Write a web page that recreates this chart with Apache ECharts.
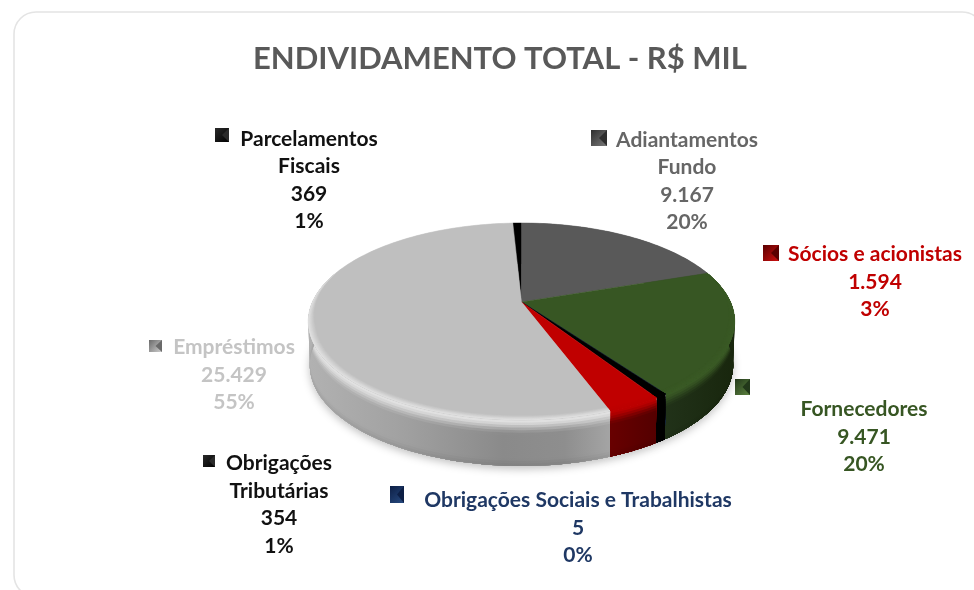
<!DOCTYPE html>
<html><head><meta charset="utf-8">
<style>html,body{margin:0;padding:0;background:#fff}#c{width:974px;height:590px;filter:blur(0.55px)}</style>
<script src="https://cdn.jsdelivr.net/npm/echarts@6/dist/echarts.min.js"></script>
</head><body><div id="c"></div>
<script>
// ---- data ----
const categories = ['Parcelamentos\nFiscais','Adiantamentos\nFundo','Fornecedores','Obrigações Sociais e Trabalhistas','Obrigações\nTributárias','Sócios e acionistas','Empréstimos'];
const values = [369, 9167, 9471, 5, 354, 1594, 25429];
const chartTitle = 'ENDIVIDAMENTO TOTAL - R$ MIL';

// ---- style and layout ----
const topColors  = ['#000000','#595959','#375623','#1f3864','#000000','#c00000','#bfbfbf'];
const highlights = ['#000000','#595959','#3a5a25','#1f3864','#000000','#bc0000','#e2e2e2'];
const wallStops  = [
  [[0,'#000000'],[1,'#000000']],
  [[0,'#333333'],[1,'#333333']],
  [[0,'#22331a'],[1,'#18260d']],
  [[0,'#0b1a40'],[1,'#0b1a40']],
  [[0,'#000000'],[1,'#000000']],
  [[0,'#6a0000'],[1,'#520000']],
  [[0,'#b2b2b2'],[0.3,'#a2a2a2'],[0.65,'#8a8a8a'],[0.85,'#8e8e8e'],[1,'#a4a4a4']]
];
const wallRange = [[510,525],[525,710],[660,735],[655,660],[655,660],[606,660],[306,610]];
const labelColors = ['#111111','#666666','#375623','#1f3864','#111111','#c00000','#c4c4c4'];
const labelPos = [[309,125.5],[687,126.5],[864,396],[578,487],[279,450],[875,241],[234,334]];
const keyBoxes = [[215,128,14,14],[591,130,16,16],[735,379,15,16],[390,486,14,17],[203,455,12,12],[763,245,16,16],[149,340,13,12]];
const keyLight = ['#000000','#7a7a7a','#5d8340','#274a80','#000000','#cf1010','#cfcfcf'];
const keyDark  = ['#2a2a2a','#2e2e2e','#22381a','#0d1f45','#2a2a2a','#5a0000','#6a6a6a'];
const FONT = '"Lato","Noto Sans",sans-serif';

// projection of the tilted disc
const TOP = {cx:521.5, cy:302, rx:209, ry:94.6};
const BOT = {cx:521.5, cy:345, rx:207.5, ry:97};
const PERSP = 0.198;
function proj(deg, g, r){
  const th = deg*Math.PI/180, X = Math.sin(th)*r, Y = -Math.cos(th)*r;
  const d = 1 - PERSP*Y;
  return [g.cx + g.rx*X/d, g.cy + g.ry*Y/d];
}
function wallPt(deg, t){
  const a = proj(deg,TOP,1), b = proj(deg,BOT,1);
  return [a[0]+(b[0]-a[0])*t, a[1]+(b[1]-a[1])*t];
}
function arc(a0,a1,fn){
  const n = Math.max(1,Math.ceil(Math.abs(a1-a0)/1.5)), pts=[];
  for(let i=0;i<=n;i++) pts.push(fn(a0+(a1-a0)*i/n));
  return pts;
}
function hex(c){return [1,3,5].map(i=>parseInt(c.substr(i,2),16));}
function mix(a,b,t){const A=hex(a),B=hex(b);return 'rgb('+A.map((v,i)=>Math.round(v+(B[i]-v)*t)).join(',')+')';}
function mixK(col,k){return hex(col).map(v=>Math.round(v*k)).map(v=>v.toString(16).padStart(2,'0')).reduce((s,x)=>s+x,'#');}

const total = values.reduce((s,v)=>s+v,0);
let cursor = -values[0]/total*360;
const sliceData = values.map((v,i)=>{
  const a0 = cursor; cursor += v/total*360;
  return {value:[a0,cursor,i]};
});
function fmt(v){return String(v).replace(/\B(?=(\d{3})+$)/g,'.');}
const labelTexts = categories.map((c,i)=>c+'\n'+fmt(values[i])+'\n'+Math.round(values[i]/total*100)+'%');

const BANDS = 18;
function renderShadow(p,api){
  const a0=api.value(0),a1=api.value(1);
  const pts = arc(a0,a1,d=>proj(d,BOT,1)).concat([[BOT.cx,BOT.cy]]);
  return {type:'polygon',shape:{points:pts},style:{fill:'#ffffff',shadowBlur:9,shadowColor:'rgba(0,0,0,0.25)',shadowOffsetY:3}};
}
function renderWall(p,api){
  const a0=api.value(0),a1=api.value(1),i=api.value(2);
  const children=[];
  const [xa,xb]=wallRange[i];
  const bottom=arc(a1,a0,d=>wallPt(d,1));
  for(let b=0;b<BANDS;b++){
    const t0=b/BANDS,tm=(b+0.5)/BANDS;
    const ramp=Math.min(1,tm/0.32), ease=ramp*ramp*(3-2*ramp);
    const dark = tm>0.85 ? 1-(tm-0.85)*0.5 : 1;
    const stops = wallStops[i].map(s=>({offset:s[0],color:mix(highlights[i],mixK(s[1],dark),ease)}));
    const grad = new echarts.graphic.LinearGradient(xa,0,xb,0,stops,true);
    // every band reaches down to the foot of the wall, so later bands paint over it without seams
    const pts = arc(a0,a1,d=>wallPt(d,t0)).concat(bottom);
    children.push({type:'polygon',shape:{points:pts},style:{fill:grad}});
  }
  return {type:'group',children};
}
function renderTop(p,api){
  const a0=api.value(0),a1=api.value(1),i=api.value(2);
  const pts=[[TOP.cx,TOP.cy]].concat(arc(a0,a1,d=>proj(d,TOP,1)));
  return {type:'polygon',shape:{points:pts},style:{fill:topColors[i],stroke:topColors[i],lineWidth:0.5}};
}
function renderBevel(p,api){
  const a0=api.value(0),a1=api.value(1),i=api.value(2);
  const children=[];
  const inset=(d,k)=>{
    const Y=-Math.cos(d*Math.PI/180);
    const w=Math.max(0,Math.min(1,(Y+0.35)/0.6));
    return proj(d,TOP,1-0.032*w*k);
  };
  const N=8, outer=arc(a1,a0,d=>proj(d,TOP,1));
  for(let b=0;b<N;b++){
    const k=1-b/N;
    const col=mix(topColors[i],highlights[i],(b+0.5)/N);
    const pts=arc(a0,a1,d=>inset(d,k)).concat(outer);
    children.push({type:'polygon',shape:{points:pts},style:{fill:col}});
  }
  return {type:'group',children};
}
function renderLabel(p,api){
  const i=api.value(2);
  const [kx,ky,kw,kh]=keyBoxes[i];
  const [lx,ly]=labelPos[i];
  return {type:'group',children:[
    {type:'rect',shape:{x:kx,y:ky,width:kw,height:kh},style:{fill:new echarts.graphic.LinearGradient(0,0,1,1,[{offset:0,color:keyDark[i]},{offset:1,color:keyLight[i]}])}},
    {type:'polygon',shape:{points:[[kx+kw,ky],[kx+kw*0.5,ky+kh/2],[kx+kw,ky+kh]]},style:{fill:keyDark[i]}},
    {type:'text',style:{text:labelTexts[i],x:lx,y:ly,align:'center',verticalAlign:'top',font:'bold 21px '+FONT,lineHeight:27.4,fill:labelColors[i]}}
  ]};
}
const mk=(name,renderItem)=>({type:'custom',name,coordinateSystem:'none',renderItem,data:sliceData,silent:true,animation:false,clip:false});

const chart=echarts.init(document.getElementById('c'),null,{renderer:'canvas'});
chart.setOption({
  animation:false,
  backgroundColor:'#ffffff',
  title:{text:chartTitle,left:248,top:38,textStyle:{fontFamily:FONT,fontWeight:'bold',fontSize:31,color:'#595959'}},
  graphic:[{type:'rect',z:-10,silent:true,shape:{x:14,y:12,width:970,height:585,r:22},style:{fill:'#ffffff',stroke:'#e4e4e4',lineWidth:1.6}}],
  series:[mk('sombra',renderShadow),mk('lateral',renderWall),mk('topo',renderTop),mk('chanfro',renderBevel),mk('rotulos',renderLabel)]
});
</script></body></html>
